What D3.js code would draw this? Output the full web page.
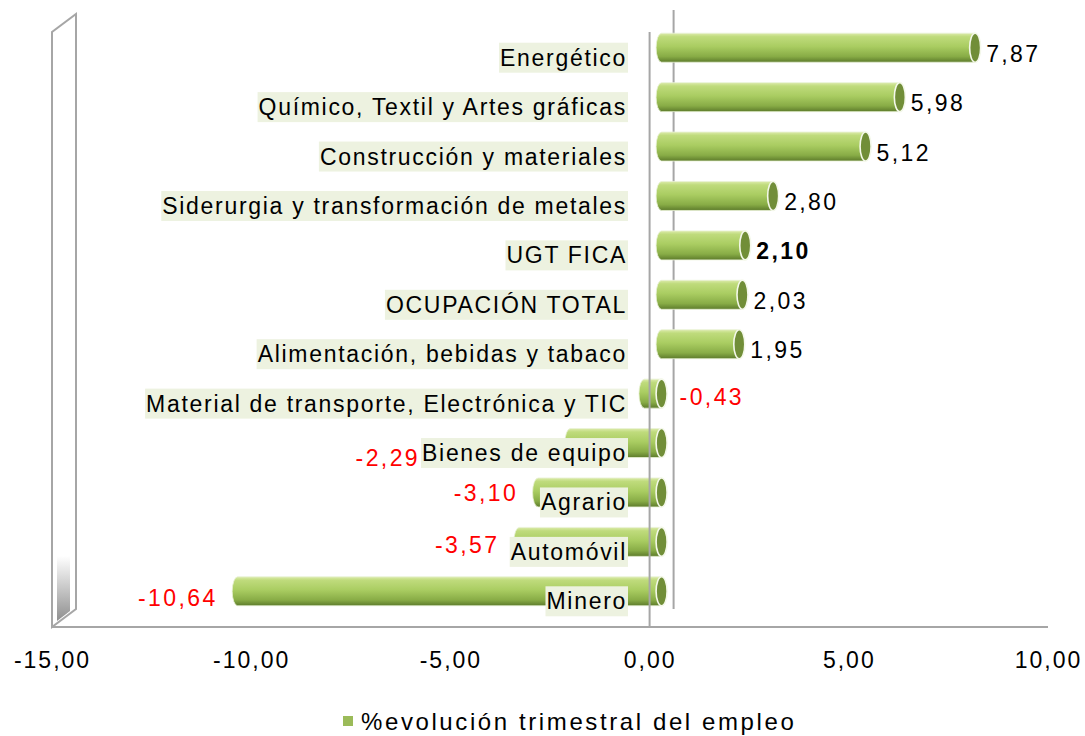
<!DOCTYPE html>
<html>
<head>
<meta charset="utf-8">
<script src="https://cdn.jsdelivr.net/npm/d3@7"></script>
<style>
  body { margin: 0; background: #fff; }
  svg { display: block; font-family: "Liberation Sans", Arial, sans-serif; }
</style>
</head>
<body>
<script>
// ---------- datos ----------
const categories = [
  'Energético',
  'Químico, Textil y Artes gráficas',
  'Construcción y materiales',
  'Siderurgia y transformación de metales',
  'UGT FICA',
  'OCUPACIÓN TOTAL',
  'Alimentación, bebidas y tabaco',
  'Material de transporte, Electrónica y TIC',
  'Bienes de equipo',
  'Agrario',
  'Automóvil',
  'Minero'
];
const values = [7.87, 5.98, 5.12, 2.80, 2.10, 2.03, 1.95, -0.43, -2.29, -3.10, -3.57, -10.64];
const tickValues = [-15, -10, -5, 0, 5, 10];
const seriesName = '%evolución trimestral del empleo';
const boldCategory = 'UGT FICA';

// desplazamientos manuales de etiquetas negativas (como en el original)
const labelShift = {
  'Material de transporte, Electrónica y TIC': { anchor: 'zero', dx: 30, dy: -4 },
  'Bienes de equipo': { anchor: 'cat', dx: -2, dy: 8 },
  'Agrario': { dy: -6 },
  'Automóvil': { dy: -4 }
};

const width = 1085, height = 736;
const depthX = 24, depthY = -18;      // profundidad 3D del gráfico
const barDX = 12, barDY = -10;        // barras a media profundidad
const ry = 14.5, rx = 5.5;

const fmt = v => d3.format('.2f')(v).replace('.', ',').replace('\u2212', '-');

const svg = d3.select('body').append('svg')
  .attr('width', width).attr('height', height);

const x = d3.scaleLinear().domain([-15, 10]).range([52, 1048]);
const y = d3.scaleBand().domain(categories).range([33, 626]);
const floorY = 627, topY = 32;

// ---------- gradientes ----------
const defs = svg.append('defs');
const g1 = defs.append('linearGradient').attr('id', 'barGrad')
  .attr('x1', 0).attr('y1', 0).attr('x2', 0).attr('y2', 1);
[['0%', '#dcebab'], ['12%', '#bfdb7c'], ['45%', '#aacd62'], ['80%', '#88ac46'], ['100%', '#5d7b2b']]
  .forEach(s => g1.append('stop').attr('offset', s[0]).attr('stop-color', s[1]));
const g2 = defs.append('linearGradient').attr('id', 'wallGrad')
  .attr('x1', 0).attr('y1', 0).attr('x2', 0).attr('y2', 1);
[['0%', '#ffffff'], ['100%', '#8f8f8f']]
  .forEach(s => g2.append('stop').attr('offset', s[0]).attr('stop-color', s[1]));

// ---------- pared / suelo ----------
const wall = svg.append('g');
wall.append('polygon')
  .attr('points', [[x(-15) + 5, 556], [x(-15) + 18, 556], [x(-15) + 18, 611], [x(-15) + 5, 621]].join(' '))
  .attr('fill', 'url(#wallGrad)');
wall.append('path')
  .attr('d', `M${x(-15)},${floorY} L${x(-15)},${topY} L${x(-15) + depthX},${topY + depthY} L${x(-15) + depthX},${floorY + depthY} Z`)
  .attr('fill', 'none').attr('stroke', '#a6a6a6').attr('stroke-width', 2);
wall.append('line')
  .attr('x1', x(-15)).attr('x2', x(10)).attr('y1', floorY).attr('y2', floorY)
  .attr('stroke', '#a6a6a6').attr('stroke-width', 2);
// línea del cero en el fondo
wall.append('line')
  .attr('x1', x(0) + depthX).attr('x2', x(0) + depthX)
  .attr('y1', topY + depthY - 4).attr('y2', floorY + depthY)
  .attr('stroke', '#a6a6a6').attr('stroke-width', 2);

// ---------- barras cilíndricas ----------
const data = categories.map((c, i) => ({ cat: c, value: values[i] }));
const bars = svg.append('g').selectAll('g').data(data).join('g');

bars.each(function (d) {
  const g = d3.select(this);
  const cy = y(d.cat) + y.bandwidth() / 2 + barDY;
  const xa = x(Math.min(0, d.value)) + barDX;
  const xb = x(Math.max(0, d.value)) + barDX;
  g.append('path')
    .attr('d', `M${xb},${cy - ry} L${xa},${cy - ry} A${rx},${ry} 0 0 0 ${xa},${cy + ry} L${xb},${cy + ry} Z`)
    .attr('fill', 'url(#barGrad)')
    .attr('stroke', '#e9f1d6').attr('stroke-width', 0.8);
  g.append('ellipse')
    .attr('cx', xb).attr('cy', cy).attr('rx', rx).attr('ry', ry)
    .attr('fill', '#718e38')
    .attr('stroke', '#f4f8ea').attr('stroke-width', 1.6);
});

// línea del cero frontal
svg.append('line')
  .attr('x1', x(0)).attr('x2', x(0)).attr('y1', topY).attr('y2', floorY)
  .attr('stroke', '#a6a6a6').attr('stroke-width', 2);

// ---------- etiquetas de categoría ----------
const catG = svg.append('g').selectAll('g').data(data).join('g');
catG.each(function (d) {
  const g = d3.select(this);
  const cy = y(d.cat) + y.bandwidth() / 2;
  const bg = g.append('rect');
  const t = g.append('text')
    .attr('x', 627).attr('y', cy)
    .attr('text-anchor', 'end').attr('dominant-baseline', 'central')
    .attr('font-size', 23).attr('letter-spacing', 1.7)
    .attr('fill', '#000')
    .text(d.cat);
  const b = t.node().getBBox();
  bg.attr('x', b.x - 1).attr('y', cy - 15).attr('width', b.width + 2).attr('height', 30)
    .attr('fill', '#edf2e0');
  d.catLeft = b.x;
});

// ---------- etiquetas de valor ----------
svg.append('g').selectAll('text').data(data).join('text')
  .each(function (d) {
    const t = d3.select(this);
    const cy = y(d.cat) + y.bandwidth() / 2;
    const s = labelShift[d.cat] || {};
    let tx, anchor, ty = cy - 4 + (s.dy || 0) + (d.value < 0 ? 1 : 0);
    if (d.value >= 0) {
      tx = x(d.value) + barDX + 11; anchor = 'start';
    } else if (s.anchor === 'zero') {
      tx = x(0) + s.dx; anchor = 'start';
    } else if (s.anchor === 'cat') {
      tx = d.catLeft + s.dx; anchor = 'end';
    } else {
      tx = x(d.value) + barDX - 20; anchor = 'end';
    }
    t.attr('x', tx).attr('y', ty)
      .attr('text-anchor', anchor).attr('dominant-baseline', 'central')
      .attr('font-size', 23).attr('letter-spacing', 2.4)
      .attr('font-weight', d.cat === boldCategory ? 'bold' : 'normal')
      .attr('fill', d.value < 0 ? '#ff0000' : '#000')
      .text(fmt(d.value));
  });

// ---------- eje X ----------
const axis = svg.append('g')
  .attr('transform', `translate(0,${floorY})`)
  .call(d3.axisBottom(x).tickValues(tickValues).tickSize(0).tickPadding(0).tickFormat(fmt));
axis.select('.domain').remove();
axis.selectAll('text')
  .attr('y', 33).attr('dy', 0)
  .attr('dominant-baseline', 'central')
  .attr('font-size', 23).attr('letter-spacing', 2)
  .attr('font-family', '"Liberation Sans", Arial, sans-serif')
  .attr('fill', '#000');

// ---------- leyenda ----------
const legend = svg.append('g').attr('transform', 'translate(343,721)');
legend.append('rect').attr('x', 0).attr('y', -5).attr('width', 10).attr('height', 10).attr('fill', '#9bbb59');
legend.append('text').attr('x', 18).attr('y', 0)
  .attr('dominant-baseline', 'central')
  .attr('font-size', 24).attr('letter-spacing', 2.6)
  .text(seriesName);
</script>
</body>
</html>
